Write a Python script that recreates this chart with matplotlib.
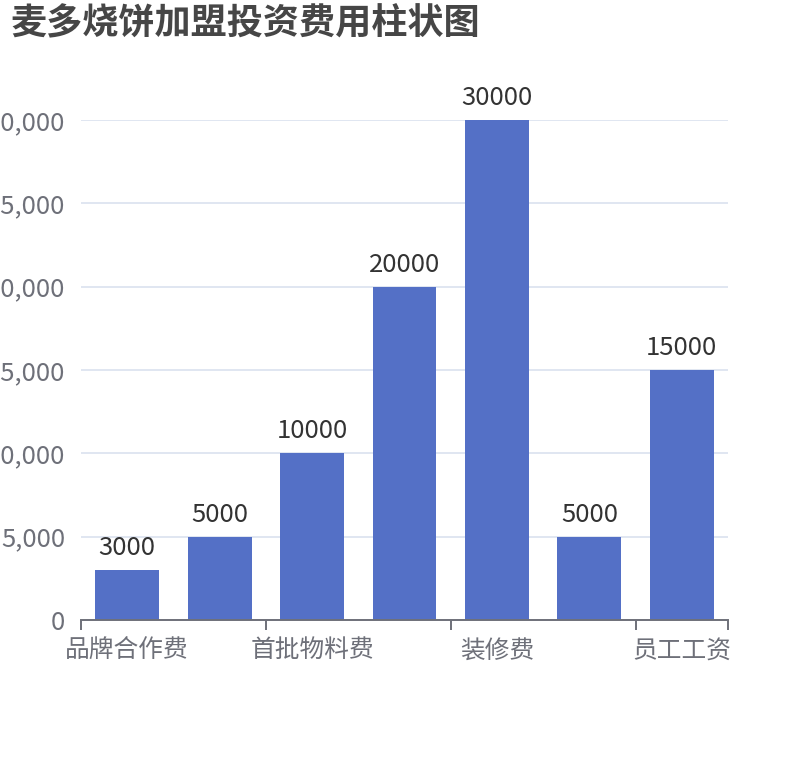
import matplotlib
matplotlib.use("Agg")
import matplotlib.pyplot as plt
from matplotlib.ticker import FuncFormatter, FixedLocator

plt.rcParams['font.family'] = ['Noto Sans CJK SC', 'DejaVu Sans']

title = "麦多烧饼加盟投资费用柱状图"
categories = ["品牌合作费", "加盟保证金", "首批物料费", "设备费", "装修费", "店面租金", "员工工资"]
values = [3000, 5000, 10000, 20000, 30000, 5000, 15000]
y_ticks = [0, 5000, 10000, 15000, 20000, 25000, 30000]

BAR = "#5470C6"
AXIS = "#6E7079"
GRID = "#E0E6F1"

fig = plt.figure(figsize=(8.1, 7.6), dpi=100)
ax = fig.add_axes([81/810, 1-620/760, (728-81)/810, (620-120)/760])

x = list(range(len(categories)))
ax.bar(x, values, width=0.69, color=BAR, zorder=3)
ax.set_xlim(-0.5, len(categories) - 0.5)
ax.set_ylim(0, 30000)

for xi, v in zip(x, values):
    ax.annotate(str(v), (xi, v), xytext=(0, 6.5), textcoords="offset points",
                ha="center", va="bottom", fontsize=18.5, color="#333333")

ax.yaxis.set_major_locator(FixedLocator(y_ticks))
ax.yaxis.set_major_formatter(FuncFormatter(lambda v, p: f"{int(v):,}"))
ax.tick_params(axis="y", length=0, pad=11.5, labelsize=18.5, labelcolor=AXIS)
ax.grid(axis="y", color=GRID, linewidth=1.4, zorder=0)

shown = list(range(0, len(categories), 2))
ax.set_xticks(shown)
ax.set_xticklabels([categories[i] for i in shown])
ax.tick_params(axis="x", which="major", length=0, pad=12.5, labelsize=17.8, labelcolor=AXIS)
ax.xaxis.set_minor_locator(FixedLocator([i - 0.5 for i in shown] + [len(categories) - 0.5]))
ax.tick_params(axis="x", which="minor", length=7, width=1.4, color=AXIS, direction="out")

for s in ["top", "right", "left"]:
    ax.spines[s].set_visible(False)
ax.spines["bottom"].set_color(AXIS)
ax.spines["bottom"].set_linewidth(1.4)
ax.spines["bottom"].set_zorder(4)

fig.text(10/810, 1-5/760, title, fontsize=26, fontweight="bold", color="#464646",
         ha="left", va="top")

fig.savefig("out.png", dpi=100, facecolor="white")
